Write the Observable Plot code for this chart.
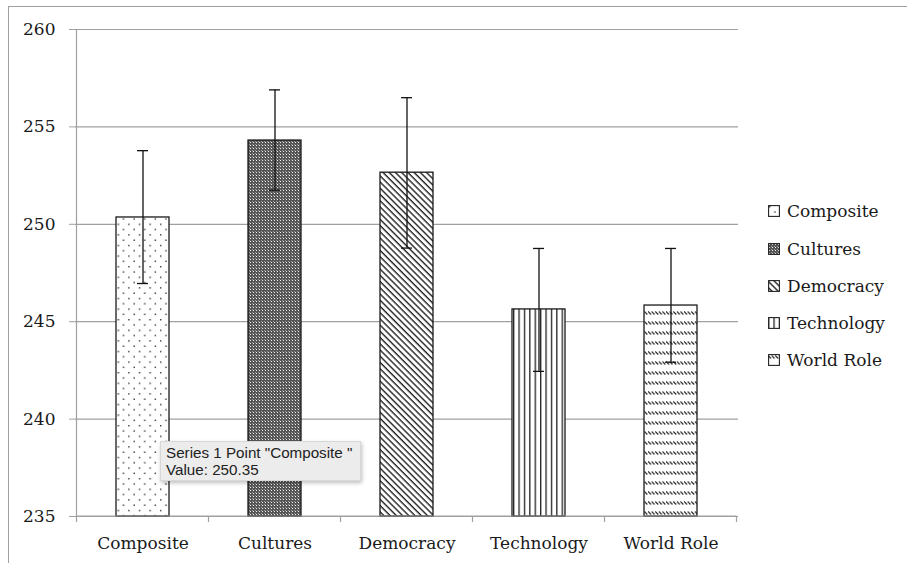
<!DOCTYPE html>
<html>
<head>
<meta charset="utf-8">
<script src="https://cdn.jsdelivr.net/npm/d3@7"></script>
<script src="https://cdn.jsdelivr.net/npm/@observablehq/plot@0.6"></script>
<style>
  body { margin: 0; background: #fff; }
  #wrap { position: relative; width: 907px; height: 563px; overflow: hidden; }
  #frame { position: absolute; left: 8px; top: 6px; width: 1000px; height: 1000px; border-left: 1.5px solid #a0a0a0; border-top: 1.5px solid #a0a0a0; box-sizing: border-box; pointer-events: none; }
  #legend { position: absolute; left: 768px; top: 0; font-family: "DejaVu Serif", serif; font-size: 17px; color: #1a1a1a; }
  .item { position: absolute; left: 0; display: flex; align-items: center; white-space: nowrap; transform: translateY(-50%); }
  .item svg { margin-right: 7px; }
  #tip { position: absolute; left: 160px; top: 441px; width: 201px; height: 40px; box-sizing: border-box; background: #ececec; border: 1px solid #d8d8d8; box-shadow: 1px 2px 4px rgba(0,0,0,0.25); font-family: "Liberation Sans", Arial, sans-serif; font-size: 15.2px; color: #222; padding: 2px 5px; line-height: 17px; white-space: nowrap; }
</style>
</head>
<body>
<div id="wrap">
  <svg width="0" height="0" style="position:absolute">
    <defs>
      <pattern id="pat0" patternUnits="userSpaceOnUse" width="10.6" height="10.6">
        <rect width="10.6" height="10.6" fill="#fff"/>
        <rect x="1" y="1" width="1.4" height="1.4" fill="#333"/>
        <rect x="6.3" y="6.3" width="1.4" height="1.4" fill="#333"/>
      </pattern>
      <pattern id="pat1" patternUnits="userSpaceOnUse" width="3" height="3">
        <rect width="3" height="3" fill="#555"/>
        <rect x="1" y="1" width="1" height="1" fill="#f0f0f0"/>
        <rect x="0" y="0" width="1" height="1" fill="#999"/>
      </pattern>
      <pattern id="pat2" patternUnits="userSpaceOnUse" width="4.4" height="4.4" patternTransform="rotate(45)">
        <rect width="4.4" height="4.4" fill="#fff"/>
        <rect x="0" y="0" width="4.4" height="1.4" fill="#222"/>
      </pattern>
      <pattern id="pat3" patternUnits="userSpaceOnUse" width="5.4" height="10">
        <rect width="5.4" height="10" fill="#fff"/>
        <rect x="0" y="0" width="1.3" height="10" fill="#222"/>
      </pattern>
      <pattern id="pat4" patternUnits="userSpaceOnUse" width="3.6" height="10">
        <rect width="3.6" height="10" fill="#fff"/>
        <line x1="0" y1="1.5" x2="3" y2="4.5" stroke="#222" stroke-width="1.1"/>
      </pattern>
    </defs>
  </svg>
  <div id="chart"></div>
  <div id="frame"></div>
  <div id="legend"></div>
  <div id="tip">Series 1 Point "Composite "<br>Value: 250.35</div>
</div>
<script>
const categories = ["Composite", "Cultures", "Democracy", "Technology", "World Role"];
const values = [250.35, 254.3, 252.65, 245.63, 245.83];
const errLow = [246.96, 251.75, 248.78, 242.45, 242.92];
const errHigh = [253.78, 256.9, 256.5, 248.76, 248.76];
const yTicks = [235, 240, 245, 250, 255, 260];

const rows = categories.map((c, i) => ({cat: c, value: values[i], lo: errLow[i], hi: errHigh[i], i}));

const barMarks = rows.map(r => Plot.barY([r], {
  x: "cat", y1: () => 235, y2: "value",
  fill: `url(#pat${r.i})`, stroke: "#1a1a1a", strokeWidth: 1.3
}));

const chart = Plot.plot({
  width: 907,
  height: 563,
  marginLeft: 75,
  marginRight: 169,
  marginTop: 29,
  marginBottom: 47,
  style: {fontFamily: "DejaVu Serif, serif", fontSize: "17px", color: "#1a1a1a", background: "transparent"},
  x: {domain: categories, paddingInner: 0.6, paddingOuter: 0.3, label: null, axis: null},
  y: {domain: [235, 260], ticks: yTicks, label: null, axis: null},
  marks: [
    Plot.ruleY(yTicks, {stroke: "#a0a0a0", strokeWidth: 1.2}),
    ...barMarks,
    Plot.ruleX(rows, {x: "cat", y1: "lo", y2: "hi", stroke: "#111", strokeWidth: 1.3}),
    Plot.tickY(rows, {x: "cat", y: "lo", stroke: "#111", strokeWidth: 1.3, insetLeft: 21, insetRight: 21}),
    Plot.tickY(rows, {x: "cat", y: "hi", stroke: "#111", strokeWidth: 1.3, insetLeft: 21, insetRight: 21}),
    Plot.axisY({ticks: yTicks, tickSize: 6, tickPadding: 14, stroke: "#a0a0a0", tickFormat: d => d, fill: "#1a1a1a", fontSize: 17}),
    Plot.axisX({tickSize: 0, tickPadding: 20, fill: "#1a1a1a", fontSize: 17})
  ]
});
document.getElementById("chart").appendChild(chart);

// axis lines and category boundary ticks positioned from the chart's scales
const xs = chart.scale("x"), ys = chart.scale("y");
const svg = d3.select(chart);
const bw = xs.bandwidth;
const step = xs.step;
const left = xs.apply(categories[0]) - (step - bw) / 2;
const y0 = ys.apply(235), yTop = ys.apply(260);
const g = svg.append("g").attr("stroke", "#a0a0a0").attr("stroke-width", 1.2);
g.append("line").attr("x1", left).attr("x2", left).attr("y1", yTop).attr("y2", y0);
g.append("line").attr("x1", left).attr("x2", left + step * categories.length).attr("y1", y0).attr("y2", y0);
for (let k = 0; k <= categories.length; k++) {
  g.append("line").attr("x1", left + step * k).attr("x2", left + step * k).attr("y1", y0).attr("y2", y0 + 6);
}

// legend
const legendRows = [211, 249, 286, 323, 360];
const legend = document.getElementById("legend");
categories.forEach((c, i) => {
  const el = document.createElement("div");
  el.className = "item";
  el.style.top = legendRows[i] + "px";
  el.innerHTML = `<svg width="12" height="12"><rect x="0.6" y="0.6" width="10.8" height="10.8" fill="url(#pat${i})" stroke="#222" stroke-width="1.1"/></svg><span>${c}</span>`;
  legend.appendChild(el);
});
</script>
</body>
</html>
